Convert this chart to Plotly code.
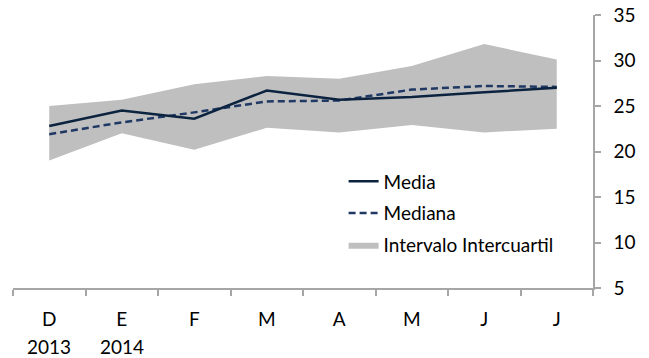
import plotly.graph_objects as go

# datos
meses = ["D", "E", "F", "M", "A", "M", "J", "J"]
anios = ["2013", "2014", "", "", "", "", "", ""]
media = [22.8, 24.5, 23.6, 26.7, 25.7, 26.0, 26.5, 27.0]
mediana = [21.9, 23.2, 24.3, 25.5, 25.6, 26.8, 27.2, 27.1]
q_inf = [19.0, 22.0, 20.2, 22.6, 22.1, 22.9, 22.1, 22.5]
q_sup = [25.0, 25.7, 27.4, 28.3, 28.0, 29.4, 31.8, 30.1]

x = list(range(len(meses)))
fuente = "Lato"
tam = 19
gris_eje = "#a6a6a6"

fig = go.Figure()

# banda intercuartil
fig.add_trace(
    go.Scatter(x=x, y=q_inf, mode="lines", line=dict(width=0), showlegend=False, hoverinfo="skip")
)
fig.add_trace(
    go.Scatter(
        x=x,
        y=q_sup,
        mode="lines",
        line=dict(width=0, color="#bfbfbf"),
        fill="tonexty",
        fillcolor="#bfbfbf",
        name="Intervalo Intercuartil",
        legendgroup="c",
        legendrank=3,
    )
)
fig.add_trace(
    go.Scatter(
        x=x, y=mediana, mode="lines", name="Mediana", legendgroup="b",
        line=dict(color="#1f3864", width=2.5, dash="7px,4px"), legendrank=2,
    )
)
fig.add_trace(
    go.Scatter(
        x=x, y=media, mode="lines", name="Media", legendgroup="a",
        line=dict(color="#0c2340", width=2.5), legendrank=1,
    )
)

# años debajo de los meses
for i, a in enumerate(anios):
    if a:
        fig.add_annotation(
            x=i, y=-0.214, xref="x", yref="paper", text=a, showarrow=False,
            font=dict(family=fuente, size=tam, color="#000000"), yanchor="middle",
        )

fig.update_xaxes(
    range=[-0.5, len(meses) - 0.5],
    tickmode="array",
    tickvals=x,
    ticktext=meses,
    ticks="",
    showgrid=False,
    zeroline=False,
    showline=True,
    linecolor=gris_eje,
    linewidth=1.5,
    automargin=False,
    ticklabelstandoff=13,
    tickfont=dict(family=fuente, size=tam, color="#000000"),
    minor=dict(tick0=-0.5, dtick=1, ticks="outside", ticklen=6, tickcolor=gris_eje, tickwidth=1.5, showgrid=False),
)
fig.update_yaxes(
    range=[5, 35],
    dtick=5,
    side="right",
    showgrid=False,
    zeroline=False,
    showline=True,
    linecolor=gris_eje,
    linewidth=1.5,
    automargin=False,
    ticks="outside",
    ticklen=6,
    tickcolor=gris_eje,
    tickwidth=1.5,
    ticklabelstandoff=9,
    tickfont=dict(family=fuente, size=tam, color="#000000"),
)

fig.update_layout(
    width=649,
    height=358,
    margin=dict(l=13, r=56, t=15, b=70),
    plot_bgcolor="white",
    paper_bgcolor="white",
    showlegend=True,
    legend=dict(
        x=0.57, y=0.46, xanchor="left", yanchor="top",
        bgcolor="rgba(0,0,0,0)",
        font=dict(family=fuente, size=tam, color="#000000"),
        traceorder="grouped",
        tracegroupgap=4,
    ),
)

# sin margen del body para que la figura empiece en (0, 0)
fig.write_html(
    "out.html",
    config={"displayModeBar": False},
    post_script="document.body.style.margin='0px';",
)
